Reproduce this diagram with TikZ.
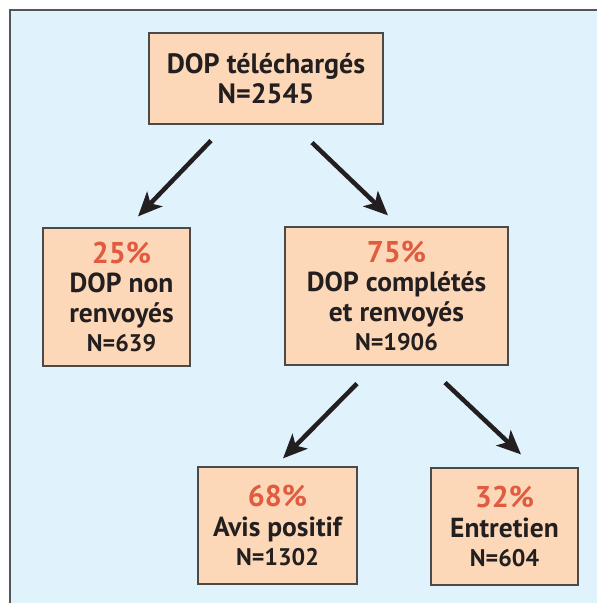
\documentclass[tikz,border=0pt]{standalone}
\usepackage{fontspec}
\setmainfont{PT Sans}
\usetikzlibrary{arrows.meta,calc}
\definecolor{bg}{HTML}{E0F2FC}
\definecolor{peach}{HTML}{FDD8B8}
\definecolor{pct}{HTML}{E05B3F}
\definecolor{ink}{HTML}{231F20}
\definecolor{framec}{HTML}{555555}
\definecolor{boxline}{HTML}{4A4A4A}
\newcommand\pc[1]{{\color{pct}\fontsize{30}{29.5}\selectfont #1}}
\newcommand\hdfont{\fontsize{27.5}{29.5}\selectfont}
\newcommand\nnfont{\fontsize{24}{29.5}\selectfont}
\begin{document}
\begin{tikzpicture}[x=1pt,y=-1pt,
  box/.style={draw=boxline, line width=1.2pt, fill=peach, inner sep=0pt, align=center, text=ink, font=\bfseries\hdfont},
  txt/.style={inner sep=0pt, align=center, text=ink, font=\bfseries\hdfont},
  arr/.style={-{Stealth[length=24pt,width=21pt,inset=6pt]}, line width=4.5pt, draw=ink}]
\useasboundingbox (0,0) rectangle (597,603);
\fill[bg] (10,10) rectangle (610,615);
\draw[framec, line width=1.5pt] (610,10) -- (10,10) -- (10,615);
\node[box, minimum width=234pt, minimum height=91pt, font=\bfseries\fontsize{28}{30}\selectfont] (top) at (266,78.5) {DOP téléchargés\\N=2545};
\node[box, minimum width=147pt, minimum height=138pt] (l) at (116.5,297) {};
\node[txt] (lt) at ([xshift=5pt]l.center) {\pc{25\%}\\DOP non\\renvoyés\\\nnfont N=639};
\node[box, minimum width=223pt, minimum height=138pt] (mid) at (396.5,296) {\pc{75\%}\\DOP complétés\\et renvoyés\\\nnfont N=1906};
\node[box, minimum width=159pt, minimum height=117pt] (bl) at (277.5,525.5) {\pc{68\%}\\Avis positif\\\nnfont N=1302};
\node[box, minimum width=147pt, minimum height=117pt] (br) at (504.5,526.5) {\pc{32\%}\\Entretien\\\nnfont N=604};
\draw[arr] ([xshift=-55pt,yshift=-16pt]top.south) -- ([xshift=21.5pt,yshift=11pt]l.north);
\draw[arr] ([xshift=46pt,yshift=-18pt]top.south) -- ([xshift=-8.5pt,yshift=11pt]mid.north);
\draw[arr] ([xshift=-39.5pt,yshift=-18pt]mid.south) -- ([xshift=5.5pt,yshift=8pt]bl.north);
\draw[arr] ([xshift=48.5pt,yshift=-17pt]mid.south) -- ([xshift=16.5pt,yshift=13pt]br.north);
\end{tikzpicture}
\end{document}
